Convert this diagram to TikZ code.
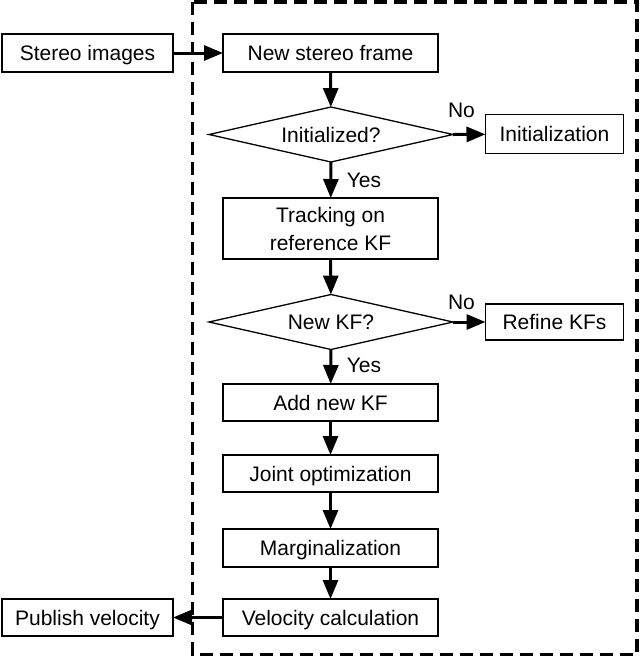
\documentclass[tikz,border=0pt]{standalone}
\usepackage{fontspec}
\setmainfont{Liberation Sans}
\usetikzlibrary{shapes.geometric,arrows.meta}
\begin{document}
\begin{tikzpicture}[x=1pt,y=-1pt,
  every node/.style={font=\fontsize{21}{28}\selectfont, inner sep=0pt, outer sep=0pt},
  box/.style={draw, line width=1.3pt, minimum width=215pt, minimum height=38pt, align=center},
  sidebox/.style={draw, line width=1.3pt, minimum height=38pt},
  decision/.style={draw, line width=1.3pt, diamond, aspect=4.4, minimum width=244pt, minimum height=55pt},
  arr/.style={line width=3pt, -{Triangle[length=19pt,width=15pt]}},
  lbl/.style={font=\fontsize{21}{24}\selectfont},
  one/.style={text height=15pt, text depth=0pt}
]
\useasboundingbox (0,0) rectangle (640,657);
\draw[line width=3.6pt, dash pattern=on 13pt off 7pt] (192.5,2) rectangle (637,654.5);

\node[sidebox, one, minimum width=171pt] (stereo) at (87.5,53) {Stereo images};
\node[box, one] (newframe) at (330.5,53) {New stereo frame};
\node[decision, one] (init) at (331,134.5) {Initialized?};
\node[sidebox, one, minimum width=138pt, minimum height=39pt] (initialization) at (554.5,134) {Initialization};
\node[box, minimum height=61pt, yshift=-1.5pt] (tracking) at (330.5,227) {Tracking on\\reference KF};
\node[decision, one] (newkf) at (331,322) {New KF?};
\node[sidebox, one, minimum width=138pt, minimum height=36pt] (refine) at (554.5,322) {Refine KFs};
\node[box, one, minimum height=37pt] (addkf) at (330.5,402.5) {Add new KF};
\node[box, one, minimum height=37pt] (joint) at (330.5,473.5) {Joint optimization};
\node[box, one, minimum height=38pt] (marg) at (330.5,548) {Marginalization};
\node[box, one, minimum height=37pt] (vel) at (330.5,617.5) {Velocity calculation};
\node[sidebox, one, minimum width=171pt, minimum height=37pt] (publish) at (87.5,617.5) {Publish velocity};

\draw[arr] (stereo) -- (newframe);
\draw[arr] (newframe) -- (init);
\draw[arr] (init.east) -- node[lbl, one, pos=0.26, yshift=24pt] {No} (initialization);
\draw[arr] (init.south) -- node[lbl, one, right=16pt, pos=0.5] {Yes} (tracking);
\draw[arr] (tracking) -- (newkf);
\draw[arr] (newkf.east) -- node[lbl, one, pos=0.26, yshift=20pt] {No} (refine);
\draw[arr] (newkf.south) -- node[lbl, one, right=16pt, pos=0.45] {Yes} (addkf);
\draw[arr] (addkf) -- (joint);
\draw[arr] (joint) -- (marg);
\draw[arr] (marg) -- (vel);
\draw[arr] (vel) -- (publish);
\end{tikzpicture}
\end{document}
